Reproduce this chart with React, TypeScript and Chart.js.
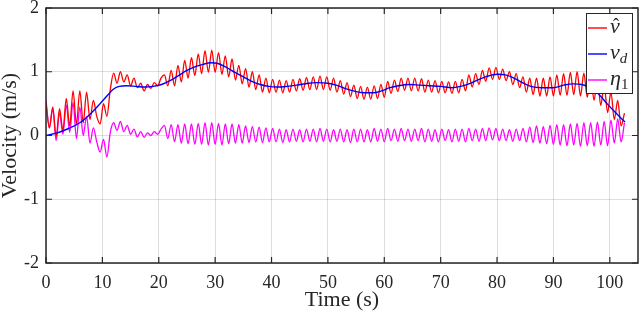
import { useEffect, useRef } from "react";
import { Chart, registerables } from "chart.js";

Chart.register(...registerables);

// sample spacing (s) of the oscillating series
const timeStep = 0.6;

// v-hat (red), one value every timeStep seconds starting at t = 0
const vHat = [
  0.5, 0.12, 0.45, -0.02, 0.42, 0.08, 0.58, 0.15, 0.7, 0.18,
  0.7, 0.2, 0.68, 0.25, 0.55, 0.3, 0.18, 0.5, 0.3, 0.72,
  0.98, 0.82, 1.0, 0.84, 0.95, 0.78, 0.9, 0.75, 0.82, 0.7,
  0.8, 0.74, 0.83, 0.78, 0.9, 0.95, 0.78, 1.02, 0.78, 1.1,
  0.84, 1.18, 0.9, 1.22, 0.94, 1.28, 0.97, 1.33, 0.99, 1.34,
  0.99, 1.3, 0.96, 1.25, 0.92, 1.2, 0.87, 1.1, 0.81, 1.05,
  0.76, 1.0, 0.72, 0.95, 0.68, 0.9, 0.67, 0.88, 0.68, 0.87,
  0.67, 0.86, 0.68, 0.88, 0.7, 0.89, 0.71, 0.91, 0.72, 0.92,
  0.72, 0.93, 0.72, 0.92, 0.71, 0.9, 0.68, 0.86, 0.65, 0.83,
  0.61, 0.79, 0.58, 0.77, 0.57, 0.76, 0.57, 0.78, 0.58, 0.8,
  0.6, 0.85, 0.66, 0.87, 0.69, 0.9, 0.71, 0.9, 0.7, 0.9,
  0.7, 0.89, 0.68, 0.87, 0.68, 0.86, 0.67, 0.85, 0.67, 0.84,
  0.66, 0.85, 0.67, 0.88, 0.7, 0.95, 0.76, 0.97, 0.8, 1.02,
  0.85, 1.06, 0.88, 1.07, 0.88, 1.04, 0.86, 1.0, 0.8, 0.97,
  0.75, 0.92, 0.68, 0.9, 0.64, 0.9, 0.62, 0.9, 0.62, 0.92,
  0.62, 0.95, 0.63, 0.97, 0.63, 0.99, 0.64, 1.0, 0.62, 0.98,
  0.6, 0.95, 0.55, 0.88, 0.47, 0.8, 0.36, 0.68, 0.25, 0.55,
  0.15, 0.35,
];

// eta_1 (magenta), same time base
const eta1 = [
  0.55, 0.12, 0.42, -0.08, 0.36, 0.02, 0.48, 0.05, 0.52, -0.05,
  0.45, 0.0, 0.3, -0.12, 0.12, -0.1, -0.26, -0.06, -0.34, 0.05,
  0.2, 0.08, 0.22, 0.06, 0.16, 0.02, 0.1, -0.02, 0.06, -0.03,
  0.04, 0.0, 0.06, 0.02, 0.1, 0.16, -0.05, 0.17, -0.1, 0.17,
  -0.12, 0.18, -0.13, 0.18, -0.14, 0.19, -0.14, 0.2, -0.15, 0.2,
  -0.14, 0.19, -0.15, 0.18, -0.13, 0.18, -0.12, 0.17, -0.12, 0.15,
  -0.11, 0.14, -0.1, 0.13, -0.11, 0.12, -0.1, 0.11, -0.1, 0.1,
  -0.11, 0.09, -0.1, 0.1, -0.09, 0.09, -0.1, 0.1, -0.09, 0.1,
  -0.1, 0.11, -0.09, 0.1, -0.1, 0.09, -0.09, 0.1, -0.1, 0.09,
  -0.11, 0.1, -0.1, 0.1, -0.1, 0.09, -0.1, 0.11, -0.09, 0.1,
  -0.1, 0.11, -0.08, 0.1, -0.09, 0.11, -0.08, 0.1, -0.09, 0.1,
  -0.08, 0.11, -0.1, 0.1, -0.09, 0.09, -0.1, 0.1, -0.08, 0.09,
  -0.1, 0.1, -0.09, 0.1, -0.1, 0.11, -0.08, 0.1, -0.09, 0.11,
  -0.08, 0.12, -0.07, 0.11, -0.08, 0.1, -0.08, 0.09, -0.09, 0.1,
  -0.08, 0.11, -0.1, 0.13, -0.11, 0.15, -0.12, 0.14, -0.13, 0.16,
  -0.14, 0.17, -0.15, 0.17, -0.16, 0.18, -0.15, 0.19, -0.17, 0.2,
  -0.16, 0.2, -0.17, 0.21, -0.15, 0.22, -0.16, 0.24, -0.12, 0.26,
  -0.1, 0.2,
];

// v_d (blue), smooth reference
const vdTimes = [
  0, 2, 4, 6, 8, 9.6, 11, 12, 13, 14.3, 16, 17.5, 19, 20.5, 22, 23.5, 25,
  26.5, 28, 29.2, 30.5, 32, 33.5, 35, 36.5, 38, 39.5, 41, 42.7, 44.5, 46.5,
  48, 50, 51.5, 53, 54.5, 56.3, 58, 59.5, 61, 62.5, 64.5, 66.3, 68, 70, 72,
  73.5, 75, 76.5, 78, 80, 81.5, 83, 84.5, 86, 88, 90, 91.8, 93.5, 95, 96.5,
  98, 99.5, 101, 102.7,
];
const vdValues = [
  0, 0.04, 0.11, 0.2, 0.35, 0.5, 0.64, 0.73, 0.77, 0.78, 0.77, 0.76, 0.77,
  0.8, 0.86, 0.94, 1.02, 1.08, 1.12, 1.14, 1.13, 1.07, 0.99, 0.92, 0.85, 0.8,
  0.77, 0.76, 0.77, 0.79, 0.82, 0.83, 0.82, 0.79, 0.74, 0.7, 0.67, 0.67, 0.7,
  0.75, 0.78, 0.8, 0.79, 0.78, 0.77, 0.75, 0.77, 0.81, 0.87, 0.92, 0.96,
  0.95, 0.9, 0.83, 0.77, 0.75, 0.75, 0.79, 0.81, 0.8, 0.75, 0.65, 0.5, 0.36,
  0.21,
];

const xTicks = [0, 10, 20, 30, 40, 50, 60, 70, 80, 90, 100];
const yTicks = [-2, -1, 0, 1, 2];
const xMax = 105;

const AX = "#262626";
const SERIF = '"Liberation Serif", "DejaVu Serif", serif';

const framePlugin = {
  id: "matlabFrame",
  afterDatasetsDraw(chart: any) {
    const { ctx, chartArea: a, scales } = chart;
    ctx.save();
    // box
    ctx.strokeStyle = AX;
    ctx.lineWidth = 1.5;
    ctx.strokeRect(a.left, a.top, a.right - a.left, a.bottom - a.top);
    // inward ticks on all four sides
    const tl = 6;
    ctx.lineWidth = 1.2;
    ctx.beginPath();
    xTicks.forEach((v) => {
      const x = scales.x.getPixelForValue(v);
      ctx.moveTo(x, a.bottom);
      ctx.lineTo(x, a.bottom - tl);
      ctx.moveTo(x, a.top);
      ctx.lineTo(x, a.top + tl);
    });
    yTicks.forEach((v) => {
      const y = scales.y.getPixelForValue(v);
      ctx.moveTo(a.left, y);
      ctx.lineTo(a.left + tl, y);
      ctx.moveTo(a.right, y);
      ctx.lineTo(a.right - tl, y);
    });
    ctx.stroke();

    // axis titles
    ctx.fillStyle = AX;
    ctx.font = `22px ${SERIF}`;
    ctx.textAlign = "center";
    ctx.textBaseline = "middle";
    ctx.fillText("Time (s)", (a.left + a.right) / 2, 300);
    ctx.save();
    ctx.translate(10, (a.top + a.bottom) / 2);
    ctx.rotate(-Math.PI / 2);
    ctx.fillText("Velocity (m/s)", 0, 0);
    ctx.restore();

    // legend
    const bx = 586.5, by = 13.5, bw = 46, bh = 80;
    ctx.fillStyle = "#ffffff";
    ctx.fillRect(bx, by, bw, bh);
    ctx.strokeStyle = AX;
    ctx.lineWidth = 1;
    ctx.strokeRect(bx, by, bw, bh);
    const entries = [
      { color: "#ff0000", y: 28, main: "v", sub: "", hat: true, subItalic: false },
      { color: "#0000ff", y: 54, main: "v", sub: "d", hat: false, subItalic: true },
      { color: "#ff00ff", y: 80, main: "η", sub: "1", hat: false, subItalic: false },
    ];
    entries.forEach((e) => {
      ctx.strokeStyle = e.color;
      ctx.lineWidth = 1.4;
      ctx.beginPath();
      ctx.moveTo(588, e.y);
      ctx.lineTo(607, e.y);
      ctx.stroke();
      ctx.fillStyle = AX;
      ctx.textAlign = "left";
      ctx.textBaseline = "alphabetic";
      ctx.font = `italic 22px ${SERIF}`;
      const tx = 610;
      const base = e.y + 5;
      ctx.fillText(e.main, tx, base);
      const w = ctx.measureText(e.main).width;
      if (e.hat) {
        ctx.font = `18px ${SERIF}`;
        ctx.textAlign = "center";
        ctx.fillText("ˆ", tx + w / 2 + 1, base - 2);
        ctx.textAlign = "left";
      }
      if (e.sub) {
        ctx.font = `${e.subItalic ? "italic " : ""}15px ${SERIF}`;
        ctx.fillText(e.sub, tx + w, base + 4);
      }
    });
    ctx.restore();
  },
};

export default function App() {
  const canvasRef = useRef<HTMLCanvasElement | null>(null);

  useEffect(() => {
    const canvas = canvasRef.current;
    if (!canvas) return;
    const redData = vHat.map((v, i) => ({ x: i * timeStep, y: v }));
    const magData = eta1.map((v, i) => ({ x: i * timeStep, y: v }));
    const blueData = vdTimes.map((t, i) => ({ x: t, y: vdValues[i] }));

    const chart = new Chart(canvas, {
      type: "line",
      data: {
        datasets: [
          {
            label: "v_d",
            data: blueData,
            borderColor: "#0000ff",
            borderWidth: 1.4,
            pointRadius: 0,
            tension: 0.4,
            cubicInterpolationMode: "monotone",
            order: 0,
          },
          {
            label: "v̂",
            data: redData,
            borderColor: "#ff0000",
            borderWidth: 1.3,
            pointRadius: 0,
            cubicInterpolationMode: "monotone",
            order: 1,
          },
          {
            label: "η1",
            data: magData,
            borderColor: "#ff00ff",
            borderWidth: 1.3,
            pointRadius: 0,
            cubicInterpolationMode: "monotone",
            order: 2,
          },
        ],
      },
      options: {
        animation: false,
        responsive: false,
        devicePixelRatio: 1,
        layout: { padding: { top: 8, right: 2, left: 0, bottom: 0 } },
        plugins: { legend: { display: false }, tooltip: { enabled: false } },
        scales: {
          x: {
            type: "linear",
            min: 0,
            max: xMax,
            afterBuildTicks: (axis: any) => {
              axis.ticks = xTicks.map((v) => ({ value: v }));
            },
            afterFit: (s: any) => {
              s.height = 55;
              s.paddingLeft = 0;
              s.paddingRight = 0;
            },
            ticks: {
              stepSize: 10,
              autoSkip: false,
              maxRotation: 0,
              padding: 9,
              color: AX,
              font: { family: SERIF, size: 18 },
            },
            grid: { color: "rgba(0,0,0,0.13)", drawTicks: false, lineWidth: 1 },
            border: { display: false },
          },
          y: {
            min: -2,
            max: 2,
            afterBuildTicks: (axis: any) => {
              axis.ticks = yTicks.map((v) => ({ value: v }));
            },
            afterFit: (s: any) => {
              s.width = 46;
              s.paddingTop = 0;
              s.paddingBottom = 0;
            },
            ticks: {
              stepSize: 1,
              padding: 7,
              color: AX,
              font: { family: SERIF, size: 18 },
              callback: (v: any) => String(v),
            },
            grid: { color: "rgba(0,0,0,0.13)", drawTicks: false, lineWidth: 1 },
            border: { display: false },
          },
        },
      },
      plugins: [framePlugin],
    });
    return () => chart.destroy();
  }, []);

  return (
    <div style={{ position: "fixed", left: 0, top: 0, width: 640, height: 318, background: "#fff" }}>
      <canvas ref={canvasRef} width={640} height={318} style={{ display: "block" }} />
    </div>
  );
}
